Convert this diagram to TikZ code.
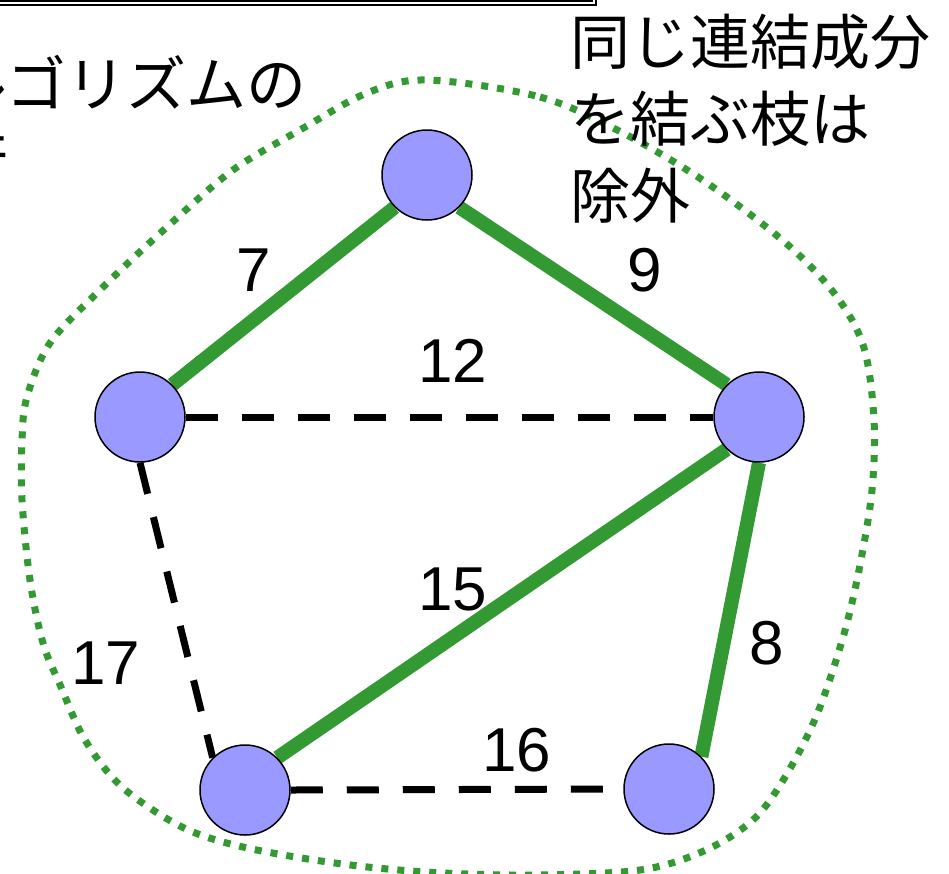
\documentclass[tikz,border=0pt]{standalone}
\usepackage{fontspec}
\setmainfont{Liberation Sans}
\newfontfamily\jpfont{Noto Sans CJK JP}
\usetikzlibrary{backgrounds}
\definecolor{treegreen}{RGB}{51,153,51}
\definecolor{vertexblue}{RGB}{153,153,255}

\begin{document}
\begin{tikzpicture}[x=1pt,y=-1pt,
    vertex/.style={circle,draw,line width=1.5pt,fill=vertexblue,minimum size=90pt,inner sep=0pt},
    tree/.style={treegreen,line width=14pt},
    rejected/.style={black,line width=7pt,dash pattern=on 32pt off 24pt},
    region/.style={treegreen,line width=7pt,dash pattern=on 7pt off 9pt},
    weight/.style={font=\fontsize{62}{62}\selectfont,inner sep=0pt},
    jp/.style={font=\jpfont\fontsize{60}{77}\selectfont,inner sep=0pt,align=left}]
            \useasboundingbox (0,0) rectangle (949,873);
            \clip (0,0) rectangle (949,873);
            % title box, cut by the frame
            \draw [double,line width=2.2pt,double distance=1.5pt] (-60,-60) rectangle (594,3.2);
            \node [jp,anchor=base west] (title) at (-112,183) {アルゴリズムの\\実行};
            \node [jp,anchor=base west] (note) at (570,218) {同じ連結成分\\を結ぶ枝は\\除外};
            % vertices
            \node [vertex] (t) at (427,175) {};
            \node [vertex] (l) at (140,417) {};
            \node [vertex] (r) at (759,417) {};
            \node [vertex] (bl) at (245,790) {};
            \node [vertex] (br) at (669,789) {};
            \begin{scope}[on background layer]
            \draw [region] plot [smooth cycle,tension=0.55] coordinates {
                (427,80) (540,97) (623,133) (707,183) (788,245) (837,297)
                (864,348) (874,420) (872,490) (860,565) (844,634) (818,712)
                (788,772) (755,818) (706,850) (640,870) (530,875) (426,872)
                (335,863) (243,847) (182,827) (122,787) (85,740) (61,687)
                (43,643) (30,580) (22,500) (22,440) (27,397) (50,343)
                (100,290) (167,227) (233,170) (300,130) (367,93)};
            % edges
            \draw [tree] (l.north east) -- (t.south west);
            \draw [tree] (t.south east) -- (r.north west);
            \draw [tree] (r.south west) -- (bl.north east);
            \draw [tree] (r.south) -- (br.north east);
            \draw [rejected] (l.east) -- (r.west);
            \draw [rejected] (l.south) -- (bl.north west);
            \draw [rejected] (bl.east) -- (br.west);
            \end{scope}
            % weights
            \node [weight] (w7) at (254,270) {7};
            \node [weight] (w9) at (645,270) {9};
            \node [weight] (w12) at (453,361) {12};
            \node [weight] (w15) at (453,589) {15};
            \node [weight] (w8) at (767,643) {8};
            \node [weight] (w17) at (106,663) {17};
            \node [weight] (w16) at (517,750) {16};
\end{tikzpicture}
\end{document}
